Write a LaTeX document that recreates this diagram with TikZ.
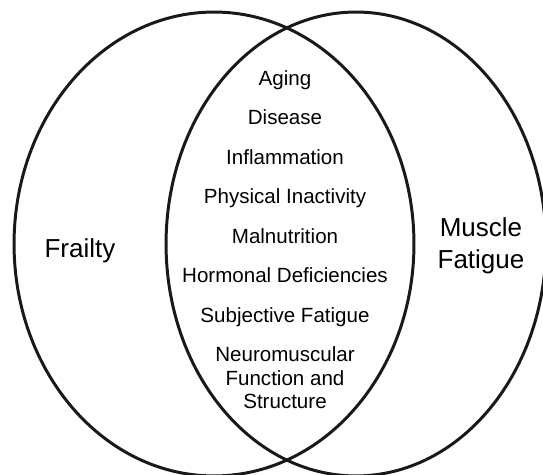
\documentclass[tikz,border=0pt]{standalone}
\usepackage{fontspec}
\setmainfont{Liberation Sans}
\usetikzlibrary{positioning}

\begin{document}
\begin{tikzpicture}[x=0.02cm, y=-0.02cm,
      every node/.style={font=\fontsize{11.7pt}{13.4pt}\selectfont, align=center, inner sep=0pt},
      outline/.style={line width=1.7pt, black!90},
      setlabel/.style={font=\fontsize{14.8pt}{18.2pt}\selectfont}]
    % page = reference frame, 1 unit = 1 px
    \clip (0,0) rectangle (543,475);

    % the two sets
    \draw[outline] (214,244) ellipse [x radius=4cm, y radius=4.64cm];
    \draw[outline] (356,244) ellipse [x radius=3.8cm, y radius=4.64cm];

    % set names
    \node[setlabel] (frailty) at (80,251) {Frailty};
    \node[setlabel] (fatigue) at (481,246) {Muscle\\Fatigue};

    % shared factors -- one row every 39.5 px down the overlap;
    % fixed height/depth so descenders do not shift a row
    \foreach \t [count=\i from 0] in {Aging, Disease, Inflammation,
        Physical Inactivity, Malnutrition, Hormonal Deficiencies,
        Subjective Fatigue} {
      \node[text height=8.6pt, text depth=2.6pt] (F\i) at (285, 80+39.5*\i) {\t};
    }
    \node (F7) at (285,378) {Neuromuscular\\Function and\\Structure};
  \end{tikzpicture}
\end{document}
